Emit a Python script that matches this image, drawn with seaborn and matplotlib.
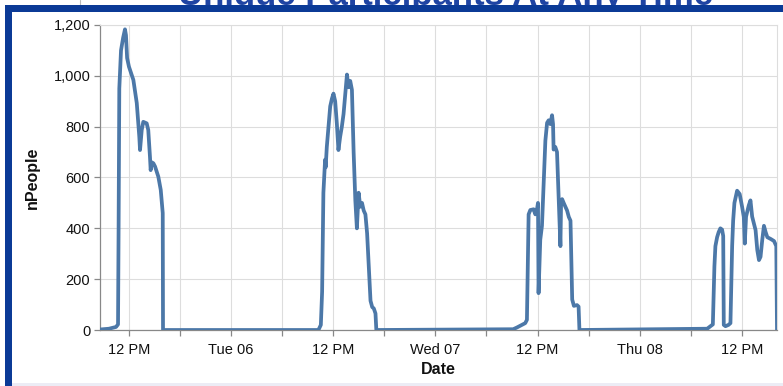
import matplotlib
matplotlib.use("Agg")
import matplotlib.pyplot as plt
import pandas as pd
import seaborn as sns
from matplotlib.patches import Rectangle
from matplotlib.lines import Line2D
from matplotlib.ticker import FuncFormatter

# ---------------- data ----------------
chart_title = "Unique Participants At Any Time"
x_title = "Date"
y_title = "nPeople"

mon_times = ["2020-10-05 08:37", "2020-10-05 09:40", "2020-10-05 10:30", "2020-10-05 10:44",
             "2020-10-05 10:48", "2020-10-05 10:53", "2020-10-05 11:05", "2020-10-05 11:20",
             "2020-10-05 11:33", "2020-10-05 11:40", "2020-10-05 11:48", "2020-10-05 12:01",
             "2020-10-05 12:32", "2020-10-05 12:56", "2020-10-05 13:14", "2020-10-05 13:19",
             "2020-10-05 13:31", "2020-10-05 13:42", "2020-10-05 14:06", "2020-10-05 14:17",
             "2020-10-05 14:29", "2020-10-05 14:34", "2020-10-05 14:41", "2020-10-05 14:53",
             "2020-10-05 15:05", "2020-10-05 15:28", "2020-10-05 15:45", "2020-10-05 15:59",
             "2020-10-05 16:01"]
mon_values = [2, 5, 12, 22,
              400, 950, 1100, 1150,
              1183, 1160, 1070, 1036,
              984, 893, 760, 708,
              787, 819, 813, 787,
              682, 629, 660, 656,
              643, 603, 551, 460,
              0]

tue_times = ["2020-10-06 10:16", "2020-10-06 10:33", "2020-10-06 10:42", "2020-10-06 10:51",
             "2020-10-06 11:03", "2020-10-06 11:07", "2020-10-06 11:15", "2020-10-06 11:27",
             "2020-10-06 11:39", "2020-10-06 11:51", "2020-10-06 12:02", "2020-10-06 12:14",
             "2020-10-06 12:26", "2020-10-06 12:37", "2020-10-06 12:49", "2020-10-06 13:01",
             "2020-10-06 13:13", "2020-10-06 13:25", "2020-10-06 13:37", "2020-10-06 13:48",
             "2020-10-06 14:00", "2020-10-06 14:12", "2020-10-06 14:24", "2020-10-06 14:36",
             "2020-10-06 14:47", "2020-10-06 14:59", "2020-10-06 15:11", "2020-10-06 15:23",
             "2020-10-06 15:35", "2020-10-06 15:47", "2020-10-06 15:59", "2020-10-06 16:11",
             "2020-10-06 16:23", "2020-10-06 16:35", "2020-10-06 16:46", "2020-10-06 16:58",
             "2020-10-06 17:04"]
tue_values = [0, 20, 150, 540,
              670, 640, 720, 800,
              880, 910, 930, 900,
              810, 708, 760, 800,
              850, 930, 1005, 955,
              980, 945, 700, 510,
              400, 540, 485, 500,
              470, 455, 380, 250,
              115, 90, 85, 65,
              0]

wed_times = ["2020-10-07 09:08", "2020-10-07 09:35", "2020-10-07 10:33", "2020-10-07 10:45",
             "2020-10-07 10:51", "2020-10-07 10:57", "2020-10-07 11:09", "2020-10-07 11:32",
             "2020-10-07 11:44", "2020-10-07 11:56", "2020-10-07 12:03", "2020-10-07 12:07",
             "2020-10-07 12:19", "2020-10-07 12:31", "2020-10-07 12:43", "2020-10-07 12:55",
             "2020-10-07 13:07", "2020-10-07 13:18", "2020-10-07 13:30", "2020-10-07 13:42",
             "2020-10-07 13:49", "2020-10-07 13:53", "2020-10-07 14:05", "2020-10-07 14:17",
             "2020-10-07 14:29", "2020-10-07 14:41", "2020-10-07 14:46", "2020-10-07 14:53",
             "2020-10-07 15:04", "2020-10-07 15:16", "2020-10-07 15:28", "2020-10-07 15:40",
             "2020-10-07 15:52", "2020-10-07 16:04", "2020-10-07 16:16", "2020-10-07 16:38",
             "2020-10-07 16:49", "2020-10-07 16:55"]
wed_values = [3, 10, 27, 40,
              250, 455, 472, 475,
              455, 475, 500, 145,
              355, 410, 580, 745,
              815, 825, 810, 845,
              810, 710, 720, 700,
              510, 330, 510, 515,
              500, 485, 470, 445,
              430, 120, 95, 98,
              92, 0]

thu_times = ["2020-10-08 07:55", "2020-10-08 08:18", "2020-10-08 08:35", "2020-10-08 08:46",
             "2020-10-08 08:53", "2020-10-08 09:05", "2020-10-08 09:16", "2020-10-08 09:28",
             "2020-10-08 09:40", "2020-10-08 09:48", "2020-10-08 09:52", "2020-10-08 10:04",
             "2020-10-08 10:25", "2020-10-08 10:39", "2020-10-08 10:51", "2020-10-08 10:58",
             "2020-10-08 11:07", "2020-10-08 11:26", "2020-10-08 11:44", "2020-10-08 12:01",
             "2020-10-08 12:13", "2020-10-08 12:20", "2020-10-08 12:29", "2020-10-08 12:48",
             "2020-10-08 13:00", "2020-10-08 13:12", "2020-10-08 13:24", "2020-10-08 13:36",
             "2020-10-08 13:48", "2020-10-08 14:00", "2020-10-08 14:11", "2020-10-08 14:23",
             "2020-10-08 14:35", "2020-10-08 14:47", "2020-10-08 14:59", "2020-10-08 15:23",
             "2020-10-08 15:46", "2020-10-08 16:02", "2020-10-08 16:07"]
thu_values = [5, 15, 22, 250,
              330, 365, 385, 400,
              395, 370, 20, 15,
              20, 27, 330, 430,
              500, 548, 535, 485,
              445, 340, 446, 490,
              510, 446, 420, 393,
              315, 275, 288, 354,
              410, 385, 365, 358,
              350, 330, 0]

major_tick_times = ["2020-10-05 12:00", "2020-10-06 00:00", "2020-10-06 12:00", "2020-10-07 00:00",
                    "2020-10-07 12:00", "2020-10-08 00:00", "2020-10-08 12:00"]
major_tick_labels = ["12 PM", "Tue 06", "12 PM", "Wed 07", "12 PM", "Thu 08", "12 PM"]
minor_tick_times = ["2020-10-05 18:00", "2020-10-06 06:00", "2020-10-06 18:00",
                    "2020-10-07 06:00", "2020-10-07 18:00", "2020-10-08 06:00"]
y_ticks = [0, 200, 400, 600, 800, 1000, 1200]

# ---------------- build frame ----------------
df = pd.DataFrame({
    "Date": pd.to_datetime(mon_times + tue_times + wed_times + thu_times),
    "nPeople": mon_values + tue_values + wed_values + thu_values,
})

sns.set_theme(style="white")
plt.rcParams["font.family"] = ["Liberation Sans", "DejaVu Sans"]

W, H = 783, 386
fig = plt.figure(figsize=(W / 100, H / 100), dpi=100)
fig.patch.set_facecolor("white")

ax = fig.add_axes([100 / W, 1 - 330 / H, 677 / W, 305 / H])
sns.lineplot(data=df, x="Date", y="nPeople", ax=ax, color="#4c78a8",
             linewidth=2.7, estimator=None, sort=False, zorder=3)

ax.set_xlim(df["Date"].min(), df["Date"].max())
ax.set_ylim(0, 1200)
ax.set_yticks(y_ticks)
ax.yaxis.set_major_formatter(FuncFormatter(lambda v, p: f"{int(v):,}"))
ax.set_xticks(pd.to_datetime(major_tick_times))
ax.set_xticklabels(major_tick_labels)
ax.set_xticks(pd.to_datetime(minor_tick_times), minor=True)

ax.set_axisbelow(True)
ax.grid(True, which="both", color="#dddddd", linewidth=0.8)
for s in ["top", "right"]:
    ax.spines[s].set_color("#dddddd")
    ax.spines[s].set_linewidth(0.8)
for s in ["left", "bottom"]:
    ax.spines[s].set_color("#888888")
    ax.spines[s].set_linewidth(0.9)

ax.tick_params(axis="both", which="both", direction="out", length=4, width=0.9,
               color="#888888", labelsize=10.5, labelcolor="#111111")
ax.tick_params(axis="x", which="both", pad=5, bottom=True)
ax.tick_params(axis="y", pad=3, left=True)

ax.set_xlabel(x_title, fontsize=11.5, fontweight="bold", color="#111111", labelpad=4)
ax.set_ylabel(y_title, fontsize=11.5, fontweight="bold", color="#111111", labelpad=10)

# ---------------- slide decoration ----------------
blue = "#0b3a96"
fig.add_artist(Line2D([80 / W, 80 / W], [1, 1 - 6 / H], transform=fig.transFigure,
                      color="#bbbbbb", linewidth=0.8))
fig.text(446 / W, 1 - 5 / H, chart_title, ha="center", va="baseline",
         fontsize=25, fontweight="bold", color="#1f44a3", zorder=1)
fig.add_artist(Rectangle((5 / W, 1 - 12 / H), 1, 7 / H, transform=fig.transFigure,
                         facecolor=blue, edgecolor="none", zorder=5))
fig.add_artist(Rectangle((5 / W, 0), 7 / W, 1 - 5 / H, transform=fig.transFigure,
                         facecolor=blue, edgecolor="none", zorder=5))
fig.add_artist(Rectangle((12 / W, 0), 1, 3 / H, transform=fig.transFigure,
                         facecolor="#ececf5", edgecolor="none", zorder=4))

fig.savefig("out.png", dpi=100)
